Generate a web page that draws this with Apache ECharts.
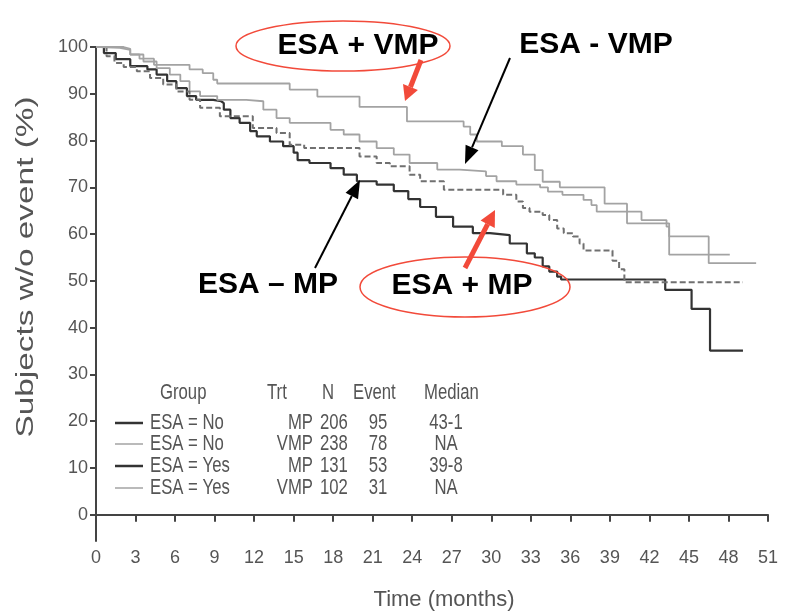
<!DOCTYPE html>
<html lang="en">
<head>
<meta charset="UTF-8">
<title>ESA KM</title>
<script src="https://cdn.jsdelivr.net/npm/echarts@6.0.0/dist/echarts.min.js"></script>
<style>
  html, body { margin: 0; padding: 0; background: #fff; }
  #main { width: 787px; height: 616px; }
</style>
</head>
<body>
<div id="main"></div>
<script type="text/javascript">
// Kaplan-Meier curves: [month, % without event]
var noMp = [[0,100],[0.6,98.7],[1.5,97.4],[2.6,95.9],[3.9,95.2],[4.6,94.1],[5.4,92.7],[6.1,91.2],[6.9,89.5],[7.6,88.7],[8.9,88.4],[9.5,88.0],[9.7,86.6],[10.2,84.8],[10.9,83.8],[11.7,82.0],[12.2,80.9],[13.2,79.8],[14.2,78.8],[15.0,77.4],[15.3,75.8],[16.2,75.2],[17.8,74.1],[18.8,72.7],[19.8,71.3],[21.3,70.6],[22.6,69.2],[23.7,67.5],[24.6,65.8],[25.8,63.7],[27.1,61.6],[28.6,60.2],[29.9,59.8],[31.4,58.0],[32.7,55.9],[33.3,55.0],[33.9,53.1],[34.4,52.0],[35.0,50.9],[35.3,50.3],[43.2,48.1],[45.2,44.0],[46.6,35.1],[49.1,35.1]];
var noVmp = [[0,100],[0.3,99.8],[1.8,99.4],[2.6,98.4],[3.6,96.9],[4.6,95.5],[5.6,94.1],[6.4,92.7],[7.1,90.5],[7.9,89.5],[9.2,88.7],[11.4,88.4],[12.7,86.6],[13.7,84.8],[14.7,83.8],[17.8,82.3],[18.8,81.3],[20.0,79.8],[21.3,78.4],[22.6,77.0],[23.8,75.2],[25.9,73.8],[27.6,73.4],[29.6,72.4],[30.4,71.3],[31.9,70.6],[33.7,70.0],[34.3,69.1],[35.4,68.4],[37.0,67.3],[37.6,66.2],[38.0,64.8],[41.4,63.0],[43.3,61.6],[43.5,59.5],[46.5,53.8],[50.1,53.8]];
var yesMp = [[0,100],[0.8,98.0],[1.4,96.6],[2.1,95.7],[3.1,94.8],[4.1,93.4],[5.1,92.0],[6.1,90.5],[7.1,88.7],[7.9,87.0],[9.4,85.2],[11.9,82.7],[13.7,81.6],[14.7,79.1],[15.8,78.4],[20.0,76.6],[21.3,75.2],[22.3,74.5],[23.8,72.7],[24.6,71.3],[26.4,69.5],[30.9,68.4],[31.9,67.0],[32.4,65.6],[32.9,64.8],[33.9,64.1],[34.4,63.0],[35.0,61.2],[35.5,60.2],[36.2,59.5],[36.7,58.0],[37.0,56.5],[39.2,54.3],[39.7,52.5],[40.1,49.7],[49.1,49.7]];
var yesVmp = [[0,100],[2.1,99.6],[2.6,98.4],[3.3,97.5],[4.4,96.2],[7.1,95.2],[8.1,94.4],[8.9,93.0],[9.2,92.2],[14.7,90.9],[16.8,89.4],[20.0,87.2],[23.6,84.1],[27.9,83.0],[28.4,81.3],[28.9,79.8],[30.8,78.8],[32.4,77.0],[33.3,73.7],[33.9,71.2],[35.2,70.0],[38.6,66.5],[40.3,62.3],[43.5,55.6],[48.1,55.6]];

var yTicks = [0,10,20,30,40,50,60,70,80,90,100];

// legend table
var tableHead = ['Group','Trt','N','Event','Median'];
var tableGroup = ['ESA = No','ESA = No','ESA = Yes','ESA = Yes'];
var tableTrt = ['MP','VMP','MP','VMP'];
var tableN = ['206','238','131','102'];
var tableEvent = ['95','78','53','31'];
var tableMedian = ['43-1','NA','39-8','NA'];

var FONT = '"Liberation Sans", Arial, sans-serif';
var TXT = '#555';
var DARK = '#333', GREY = '#a3a3a3', DASH = '#707070', RED = '#f24a3a';

function arrow(x1, y1, x2, y2, color, w, hl, hw) {
  var a = Math.atan2(y2 - y1, x2 - x1);
  var bx = x2 - hl * Math.cos(a), by = y2 - hl * Math.sin(a);
  var px = -Math.sin(a) * hw, py = Math.cos(a) * hw;
  return [
    {type: 'line', shape: {x1: x1, y1: y1, x2: bx, y2: by}, style: {stroke: color, lineWidth: w}, z: 20},
    {type: 'polygon', shape: {points: [[x2, y2], [bx + px, by + py], [bx - px, by - py]]}, style: {fill: color}, z: 20}
  ];
}

// narrow-looking text: squeeze horizontally around its anchor
function txt(x, y, s, align) {
  return {type: 'text', x: x, y: y, z: 20, scaleX: 0.76,
    style: {text: s, fill: TXT, font: '22px ' + FONT, textAlign: align || 'left', textVerticalAlign: 'middle'}};
}

var g = [];
var rowY = [423, 444, 466, 488];
var rowCol = [DARK, GREY, DARK, GREY];
var rowW = [2.5, 1.5, 2.5, 1.5];
g.push(txt(160, 393, tableHead[0]));
g.push(txt(267, 393, tableHead[1]));
g.push(txt(322, 393, tableHead[2]));
g.push(txt(353, 393, tableHead[3]));
g.push(txt(424, 393, tableHead[4]));
for (var i = 0; i < 4; i++) {
  g.push({type: 'line', shape: {x1: 115, y1: rowY[i], x2: 143, y2: rowY[i]}, style: {stroke: rowCol[i], lineWidth: rowW[i]}, z: 20});
  g.push(txt(150, rowY[i], tableGroup[i]));
  g.push(txt(313, rowY[i], tableTrt[i], 'right'));
  g.push(txt(320, rowY[i], tableN[i]));
  g.push(txt(378, rowY[i], tableEvent[i], 'center'));
  g.push(txt(446, rowY[i], tableMedian[i], 'center'));
}
// axis names
g.push({type: 'text', x: 27, y: 267, rotation: Math.PI / 2, scaleX: 1.45, z: 20,
  style: {text: 'Subjects w/o event (%)', fill: TXT, font: '23px ' + FONT, textAlign: 'center', textVerticalAlign: 'middle'}});
g.push({type: 'text', x: 444, y: 600, z: 20,
  style: {text: 'Time (months)', fill: TXT, font: '22px ' + FONT, textAlign: 'center', textVerticalAlign: 'middle'}});

// annotations
var BOLD = 'bold 30px "Liberation Sans", Arial, sans-serif';
function note(x, y, s) {
  return {type: 'text', x: x, y: y, z: 21, style: {text: s, fill: '#000', font: BOLD, textAlign: 'center', textVerticalAlign: 'middle'}};
}
g.push({type: 'ellipse', shape: {cx: 343, cy: 46, rx: 107, ry: 25}, style: {fill: null, stroke: RED, lineWidth: 1.5}, z: 19});
g.push({type: 'ellipse', shape: {cx: 465, cy: 287, rx: 105, ry: 30}, style: {fill: null, stroke: RED, lineWidth: 1.5}, z: 19});
g.push(note(358, 46, 'ESA + VMP'));
g.push(note(596, 45, 'ESA - VMP'));
g.push(note(268, 285, 'ESA \u2013 MP'));
g.push(note(462, 286, 'ESA + MP'));
g = g.concat(arrow(421, 60, 405, 101, RED, 5, 15, 8));
g = g.concat(arrow(465, 268, 495, 210, RED, 5, 16, 8));
g = g.concat(arrow(510, 58, 465, 164, '#000', 2, 18, 7));
g = g.concat(arrow(315, 268, 360, 180, '#000', 2, 18, 7));

var chart = echarts.init(document.getElementById('main'));

function km(name, data, color, width, type) {
  return {
    name: name, type: 'line', step: 'end', data: data, showSymbol: false, symbol: 'none',
    lineStyle: {color: color, width: width, type: type || 'solid'}, animation: false, z: 5
  };
}

chart.setOption({
  animation: false,
  grid: {left: 96, right: 19, top: 47, bottom: 75},
  xAxis: {
    type: 'value', min: 0, max: 51, interval: 3,
    axisLine: {lineStyle: {color: '#444', width: 2}},
    axisTick: {length: 7, lineStyle: {color: '#444', width: 2}},
    axisLabel: {color: TXT, fontSize: 18, fontFamily: FONT, margin: 8},
    splitLine: {show: false}
  },
  yAxis: {
    type: 'value', min: -5.6, max: 100,
    axisLine: {show: true, lineStyle: {color: '#444', width: 2}},
    axisTick: {show: true, length: 6, customValues: yTicks, lineStyle: {color: '#444', width: 2}},
    axisLabel: {color: TXT, fontSize: 18, fontFamily: FONT, margin: 8, customValues: yTicks},
    splitLine: {show: false}
  },
  series: [
    km('ESA = No MP', noMp, DARK, 2.2),
    km('ESA = No VMP', noVmp, GREY, 1.8),
    km('ESA = Yes MP', yesMp, DASH, 2, [6, 3]),
    km('ESA = Yes VMP', yesVmp, GREY, 1.8)
  ],
  graphic: g
});
</script>
</body>
</html>
